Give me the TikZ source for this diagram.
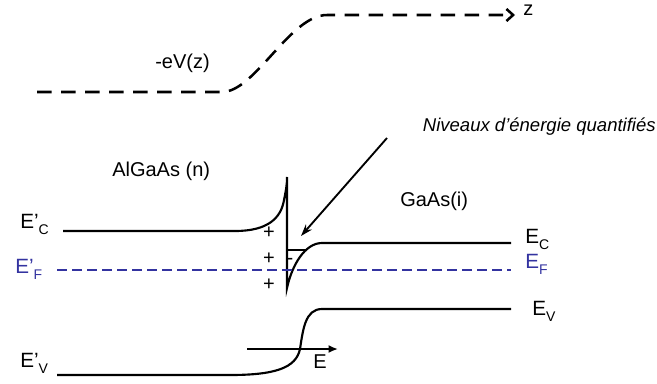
\documentclass[tikz,border=0pt]{standalone}
\usepackage{fontspec}
\setmainfont{Liberation Sans}
\usetikzlibrary{positioning, arrows.meta, calc}
\definecolor{fermiblue}{RGB}{51,51,160}
\newcommand{\bsub}[1]{\raisebox{-5pt}{\fontsize{10.5}{12}\selectfont #1}}

\begin{document}
\begin{tikzpicture}[
        x=0.75pt, y=-0.75pt,
        band/.style={line width=1.6pt},
        potential/.style={line width=1.9pt, dash pattern=on 11pt off 7pt},
        fermi/.style={line width=1.8pt, color=fermiblue, dash pattern=on 7.5pt off 3.75pt},
        label/.style={font=\fontsize{15}{18}\selectfont, inner sep=0pt},
        italic_label/.style={font=\fontsize{13.9}{16}\selectfont\itshape, inner sep=0pt},
        elabel/.style={font=\fontsize{15.5}{18}\selectfont, inner sep=0pt, anchor=base west},
        black_arrow/.style={-{Stealth[length=9pt, width=6pt]}, line width=1.4pt},
        field_arrow/.style={-{Latex[length=7pt, width=6pt]}, line width=1.4pt}
    ]
    \useasboundingbox (0,0) rectangle (657,383);

    % Potential profile -eV(z)
    \coordinate (pot_start) at (37,92);
    \coordinate (pot_end) at (515,15);
    \draw[potential, -{Straight Barb[length=5pt, width=9pt]}] (pot_start) -- (222,92) .. controls (255,92) and (290,15) .. (327,15) -- (pot_end);
    \node[label, anchor=base west] (z_label) at (523,15) {z};
    \node[label, anchor=base west] (potential_label) at (155,68) {-eV(z)};

    % Layer labels
    \node[label, anchor=base west] (algaas_label) at (112,176) {AlGaAs (n)};
    \node[label, anchor=base west] (gaas_label) at (400,206) {GaAs(i)};
    \node[italic_label, anchor=base east] (niveaux_label) at (656,131) {Niveaux d’énergie quantifiés};

    % Conduction band with the well and its level
    \draw[band] (63,231) -- (235,231) .. controls (268,231) and (281,218) .. (284,200)
        .. controls (286,190) and (287,185) .. (287,177) -- (287,288)
        .. controls (292,265) and (305,243) .. (322,243) -- (511,243);
    \draw[band] (287,250) -- (307,250);

    % Fermi level
    \draw[fermi] (57,270) -- (511,270);

    % Valence band
    \draw[band] (57,375) -- (230,375) .. controls (275,375) and (296,368) .. (300,349)
        .. controls (303,330) and (305,309) .. (322,309) -- (511,309);

    % Charges
    \foreach \y in {233,259,285}
        \node[label] (plus\y) at (269,\y) {+};
    \node[label] (minus) at (290,261) {-};

    % Arrow to the quantized levels
    \coordinate (arrow_start) at (387,138);
    \coordinate (niveau_tip) at (301,236);
    \draw[black_arrow] (arrow_start) -- (niveau_tip);

    % Electric field
    \coordinate (field_start) at (247,349);
    \coordinate (field_end) at (338,349);
    \draw[field_arrow] (field_start) -- (field_end);
    \node[label, anchor=base west] (field_label) at (313,368) {E};

    % Band labels
    \node[elabel] (ec_left) at (20,228) {E’\bsub{C}};
    \node[elabel, text=fermiblue] (ef_left) at (15,273) {E’\bsub{F}};
    \node[elabel] (ev_left) at (20,367) {E’\bsub{V}};
    \node[elabel] (ec_right) at (525,243) {E\bsub{C}};
    \node[elabel, text=fermiblue] (ef_right) at (525,268) {E\bsub{F}};
    \node[elabel] (ev_right) at (532,315) {E\bsub{V}};
\end{tikzpicture}
\end{document}
